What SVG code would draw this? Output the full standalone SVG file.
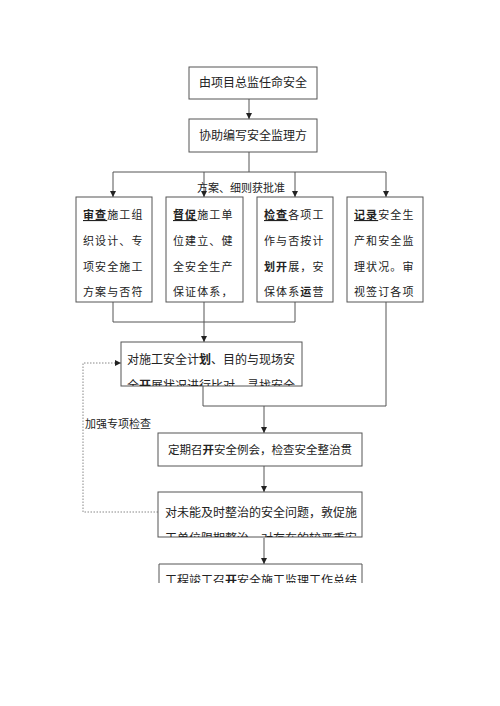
<svg xmlns="http://www.w3.org/2000/svg" width="500" height="706" viewBox="0 0 500 706">
<style>
text{font-family:"Noto Sans CJK SC","Noto Sans",sans-serif;fill:#222;}
.box{fill:#fff;stroke:#555;stroke-width:1;}
.ln{fill:none;stroke:#555;stroke-width:1;}
.dot{fill:none;stroke:#888;stroke-width:1;stroke-dasharray:1.5 1.5;}
.t12{font-size:12px;}
.t11{font-size:11px;}
.col{font-size:11px;letter-spacing:1.1px;}
.b{font-weight:bold;}
.u{font-weight:bold;text-decoration:underline;}
</style>
<defs>
<marker id="ah" viewBox="0 0 6 6" refX="6" refY="3" markerWidth="6" markerHeight="6" markerUnits="userSpaceOnUse" orient="auto">
<path d="M0,0 L6,3 L0,6 Z" fill="#222"/>
</marker>
<clipPath id="cE"><rect x="121" y="342" width="181" height="44"/></clipPath>
<clipPath id="cG"><rect x="158" y="492" width="204" height="45"/></clipPath>
<clipPath id="cH"><rect x="158" y="564" width="204" height="19"/></clipPath>
</defs>
<rect width="500" height="706" fill="#fff"/>
<g id="connectors">
<path class="ln" d="M249,99 V119" marker-end="url(#ah)"/>
<path class="ln" d="M249,152 V172 M113,172 H386"/>
<path class="ln" d="M113,172 V197" marker-end="url(#ah)"/>
<path class="ln" d="M204,172 V197" marker-end="url(#ah)"/>
<path class="ln" d="M295,172 V197" marker-end="url(#ah)"/>
<path class="ln" d="M386,172 V197" marker-end="url(#ah)"/>
<path class="ln" d="M113,302 V322 H295 M295,302 V322"/>
<path class="ln" d="M204,302 V342" marker-end="url(#ah)"/>
<path class="ln" d="M386,302 V406 H203 M203,386 V406"/>
<path class="ln" d="M264,406 V433" marker-end="url(#ah)"/>
<path class="ln" d="M264,466 V492" marker-end="url(#ah)"/>
<path class="ln" d="M264,538 V564" marker-end="url(#ah)"/>
<path class="dot" d="M158,512 H83 V363 H121" marker-end="url(#ah)"/>
<text class="t11" x="197" y="192">方案、细则获批准</text>
<text class="t11" x="85" y="428">加强专项检查</text>
</g>
<g id="n1"><rect class="box" x="189" y="67" width="128" height="32"/><text class="t12" x="253" y="87" text-anchor="middle">由项目总监任命安全</text></g>
<g id="n2"><rect class="box" x="189" y="119" width="128" height="33"/><text class="t12" x="253" y="140" text-anchor="middle">协助编写安全监理方</text></g>
<g id="n3"><rect class="box" x="76" y="197" width="76" height="105"/>
<text class="col" x="83" y="219"><tspan class="u">审查</tspan>施工组</text>
<text class="col" x="83" y="245">织设计、专</text>
<text class="col" x="83" y="271">项安全施工</text>
<text class="col" x="83" y="296">方案与否符</text></g>
<g id="n4"><rect class="box" x="166" y="197" width="77" height="105"/>
<text class="col" x="173" y="219"><tspan class="u">督促</tspan>施工单</text>
<text class="col" x="173" y="245">位建立、健</text>
<text class="col" x="173" y="271">全安全生产</text>
<text class="col" x="173" y="296">保证体系，</text></g>
<g id="n5"><rect class="box" x="257" y="197" width="76" height="105"/>
<text class="col" x="264" y="219"><tspan class="u">检查</tspan>各项工</text>
<text class="col" x="264" y="245">作与否按计</text>
<text class="col" x="264" y="271"><tspan class="b">划开</tspan>展，安</text>
<text class="col" x="264" y="296">保体系<tspan class="b">运</tspan>营</text></g>
<g id="n6"><rect class="box" x="347" y="197" width="76" height="105"/>
<text class="col" x="354" y="219"><tspan class="u">记录</tspan>安全生</text>
<text class="col" x="354" y="245">产和安全监</text>
<text class="col" x="354" y="271">理状况。审</text>
<text class="col" x="354" y="296">视签订各项</text></g>
<g id="n7"><rect class="box" x="121" y="342" width="181" height="44"/>
<g clip-path="url(#cE)">
<text class="t12" x="127" y="364">对施工安全计<tspan class="b">划</tspan>、目的与现场安</text>
<text class="t12" x="127" y="390">全<tspan class="b">开</tspan>展状况进行比对，寻找安全</text></g></g>
<g id="n8"><rect class="box" x="158" y="433" width="204" height="33"/>
<text class="t12" x="168" y="454" style="font-size:11.5px">定期召<tspan class="b">开</tspan>安全例会，检查安全整治贯</text></g>
<g id="n9"><rect class="box" x="158" y="492" width="204" height="45"/>
<g clip-path="url(#cG)">
<text class="t12" x="165" y="517">对未能及时整治的安全问题，敦促施</text>
<text class="t12" x="165" y="543">工单位限期整治，对存在的较严重安</text></g></g>
<g id="n10"><path class="ln" d="M159,583 V564 H362 V583"/>
<g clip-path="url(#cH)">
<text class="t12" x="165" y="585">工程竣工召<tspan class="b">开</tspan>安全施工监理工作总结</text></g></g>
</svg>
